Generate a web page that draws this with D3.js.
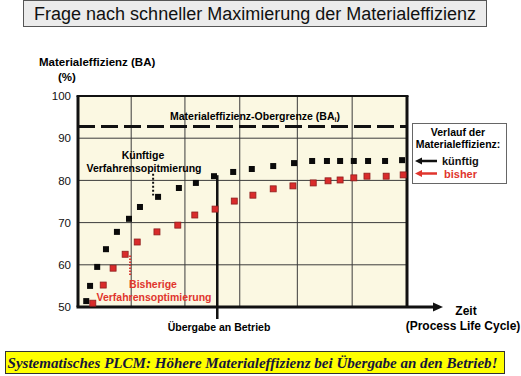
<!DOCTYPE html>
<html>
<head>
<meta charset="utf-8">
<script src="https://cdn.jsdelivr.net/npm/d3@7"></script>
<style>
body{margin:0;background:#fff}
svg{display:block}
text{font-family:"Liberation Sans",Arial,Helvetica,sans-serif}
</style>
</head>
<body>
<div id="graph_draw"></div>
<script>
// values (time is in arbitrary units 0..60)
var kuenftigZeit = [1.5, 2.2, 3.5, 5.1, 7.1, 9.3, 11.3, 14.6, 18.4, 21.5, 24.8, 28.3, 31.7, 35.6, 39.4, 42.7, 45.4, 47.8, 50.3, 52.9, 56.0, 59.1];
var kuenftigWert = [51.4, 55.0, 59.5, 63.7, 67.8, 70.9, 73.7, 76.1, 78.2, 79.4, 81.0, 82.0, 82.7, 83.4, 84.1, 84.6, 84.6, 84.6, 84.6, 84.6, 84.6, 84.8];
var bisherZeit = [2.7, 4.6, 6.4, 8.6, 10.8, 14.4, 18.2, 21.3, 25.0, 28.5, 31.9, 35.6, 39.2, 42.9, 45.6, 47.8, 50.3, 52.7, 56.2, 59.3];
var bisherWert = [50.9, 55.2, 59.2, 62.5, 65.4, 67.8, 69.4, 71.8, 73.2, 75.1, 76.5, 78.0, 78.7, 79.4, 79.9, 80.1, 80.6, 81.0, 81.0, 81.3];
var yTicks = [50, 60, 70, 80, 90, 100];
var xGrid = [9.7, 19.5, 29.5, 40, 50];
var obergrenze = 92.8;
var uebergabeZeit = 25.4;

var margin = {top: 96, left: 78},
    width = 329,
    height = 211;

var x = d3.scaleLinear().domain([0, 60]).range([0, width]);
var y = d3.scaleLinear().domain([50, 100]).range([height, 0]);

var root = d3.select("#graph_draw").append("svg")
    .attr("width", 521)
    .attr("height", 376);

// title box
root.append("rect").attr("x", 23.5).attr("y", 0.5).attr("width", 463).attr("height", 26)
    .attr("fill", "#ebebeb").attr("stroke", "#555").attr("stroke-width", 1);
root.append("text").attr("x", 255).attr("y", 20).attr("text-anchor", "middle")
    .attr("font-size", "18px").attr("fill", "#111")
    .text("Frage nach schneller Maximierung der Materialeffizienz");

// y axis title
root.append("text").attr("x", 39).attr("y", 66).attr("font-size", "11.5px").attr("font-weight", "bold")
    .text("Materialeffizienz (BA)");
root.append("text").attr("x", 58).attr("y", 81).attr("font-size", "11.5px").attr("font-weight", "bold")
    .text("(%)");

var svg = root.append("g")
    .attr("transform", "translate(" + margin.left + "," + margin.top + ")");

// plot background
svg.append("rect").attr("width", width).attr("height", height).attr("fill", "#fbf8e2");

// grid
svg.selectAll(".hgrid").data(yTicks.slice(1, -1)).enter().append("line")
    .attr("x1", 0).attr("x2", width)
    .attr("y1", function(d) { return y(d); }).attr("y2", function(d) { return y(d); })
    .attr("stroke", "#3c3c3c").attr("stroke-width", 1);
svg.selectAll(".vgrid").data(xGrid).enter().append("line")
    .attr("y1", 0).attr("y2", height)
    .attr("x1", function(d) { return x(d); }).attr("x2", function(d) { return x(d); })
    .attr("stroke", "#3c3c3c").attr("stroke-width", 1);

// y axis labels
var yAxis = svg.append("g")
    .call(d3.axisLeft(y).tickValues(yTicks).tickSize(0).tickPadding(7));
yAxis.select(".domain").remove();
yAxis.selectAll("text").attr("font-size", "11.5px").attr("fill", "#111");

// frame
svg.append("line").attr("x1", -1.5).attr("x2", width + 1.5).attr("y1", 0).attr("y2", 0)
    .attr("stroke", "#111").attr("stroke-width", 2);
svg.append("line").attr("x1", 0).attr("x2", 0).attr("y1", 0).attr("y2", height)
    .attr("stroke", "#111").attr("stroke-width", 3);
svg.append("line").attr("x1", width).attr("x2", width).attr("y1", 0).attr("y2", height)
    .attr("stroke", "#111").attr("stroke-width", 3);

// x axis with arrow
svg.append("line").attr("x1", -1.5).attr("x2", width + 28).attr("y1", height).attr("y2", height)
    .attr("stroke", "#111").attr("stroke-width", 3);
svg.append("path")
    .attr("d", "M" + (width + 26) + "," + (height - 4.5) + "L" + (width + 36) + "," + height + "L" + (width + 26) + "," + (height + 4.5) + "Z")
    .attr("fill", "#111");

root.append("text").attr("x", 466).attr("y", 315).attr("text-anchor", "middle")
    .attr("font-size", "12px").attr("font-weight", "bold").text("Zeit");
root.append("text").attr("x", 463).attr("y", 330).attr("text-anchor", "middle")
    .attr("font-size", "12px").attr("font-weight", "bold").text("(Process Life Cycle)");

// upper limit
svg.append("line").attr("x1", 0).attr("x2", width)
    .attr("y1", y(obergrenze)).attr("y2", y(obergrenze))
    .attr("stroke", "#111").attr("stroke-width", 3).attr("stroke-dasharray", "17,6");
var og = svg.append("text").attr("x", 177).attr("y", y(obergrenze) - 6).attr("text-anchor", "middle")
    .attr("font-size", "10.5px").attr("font-weight", "bold");
og.append("tspan").text("Materialeffizienz-Obergrenze (BA");
og.append("tspan").attr("font-size", "7px").attr("dy", 2).text("i");
og.append("tspan").attr("dy", -2).text(")");

// handover line
svg.append("line").attr("x1", x(uebergabeZeit)).attr("x2", x(uebergabeZeit))
    .attr("y1", y(kuenftigWert[10]) - 1).attr("y2", height + 12)
    .attr("stroke", "#111").attr("stroke-width", 2.5);
root.append("text").attr("x", 219).attr("y", 331).attr("text-anchor", "middle")
    .attr("font-size", "10.5px").attr("font-weight", "bold").text("Übergabe an Betrieb");

// annotation: future
svg.append("line").attr("x1", x(13.7)).attr("x2", x(13.7))
    .attr("y1", y(81.6)).attr("y2", y(76.4))
    .attr("stroke", "#111").attr("stroke-width", 2).attr("stroke-dasharray", "2,2");
root.append("text").attr("x", 143).attr("y", 159).attr("text-anchor", "middle")
    .attr("font-size", "10.5px").attr("font-weight", "bold").text("Künftige");
root.append("text").attr("x", 144).attr("y", 172).attr("text-anchor", "middle")
    .attr("font-size", "10.5px").attr("font-weight", "bold").text("Verfahrensopitmierung");

// annotation: past
svg.append("line").attr("x1", x(9.5)).attr("x2", x(9.5))
    .attr("y1", y(62.2)).attr("y2", y(57.2))
    .attr("stroke", "#d8312b").attr("stroke-width", 2).attr("stroke-dasharray", "1.5,1.5");
root.append("text").attr("x", 153).attr("y", 288).attr("text-anchor", "middle")
    .attr("font-size", "10.5px").attr("font-weight", "bold").attr("fill", "#e0352d").text("Bisherige");
root.append("text").attr("x", 154).attr("y", 301).attr("text-anchor", "middle")
    .attr("font-size", "10.5px").attr("font-weight", "bold").attr("fill", "#e0352d").text("Verfahrensoptimierung");

// points
var sq = 6;
svg.selectAll(".bisher").data(bisherZeit).enter().append("rect")
    .attr("x", function(d) { return x(d) - sq / 2; })
    .attr("y", function(d, i) { return y(bisherWert[i]) - sq / 2; })
    .attr("width", sq).attr("height", sq)
    .attr("fill", "#d92b2b").attr("stroke", "#8e1d1d").attr("stroke-width", 0.8);
svg.selectAll(".kuenftig").data(kuenftigZeit).enter().append("rect")
    .attr("x", function(d) { return x(d) - sq / 2; })
    .attr("y", function(d, i) { return y(kuenftigWert[i]) - sq / 2; })
    .attr("width", sq).attr("height", sq)
    .attr("fill", "#0a0a0a");

// legend
var lg = root.append("g");
lg.append("rect").attr("x", 412.5).attr("y", 123.5).attr("width", 94).attr("height", 60)
    .attr("fill", "#fff").attr("stroke", "#666").attr("stroke-width", 1);
lg.append("text").attr("x", 458).attr("y", 136).attr("text-anchor", "middle")
    .attr("font-size", "10.5px").attr("font-weight", "bold").text("Verlauf der");
lg.append("text").attr("x", 458).attr("y", 148).attr("text-anchor", "middle")
    .attr("font-size", "10.5px").attr("font-weight", "bold").text("Materialeffizienz:");
[{c: "#111", t: "künftig", yy: 161, tx: 442}, {c: "#e0352d", t: "bisher", yy: 173.5, tx: 444}].forEach(function(e) {
    lg.append("line").attr("x1", 420).attr("x2", 437).attr("y1", e.yy).attr("y2", e.yy)
        .attr("stroke", e.c).attr("stroke-width", 2.5);
    lg.append("path").attr("d", "M415," + e.yy + "L422," + (e.yy - 3.5) + "L422," + (e.yy + 3.5) + "Z")
        .attr("fill", e.c);
    lg.append("text").attr("x", e.tx).attr("y", e.yy + 4).attr("font-size", "11px")
        .attr("font-weight", "bold").attr("fill", e.c).text(e.t);
});

// bottom banner
root.append("rect").attr("x", 5.5).attr("y", 351.5).attr("width", 499).attr("height", 22)
    .attr("fill", "#ffff00").attr("stroke", "#333").attr("stroke-width", 1);
root.append("text").attr("x", 252.5).attr("y", 367.5).attr("text-anchor", "middle")
    .style("font-family", "'Liberation Serif','Times New Roman',serif")
    .attr("font-size", "15px").attr("font-weight", "bold").attr("font-style", "italic")
    .attr("fill", "#16163a")
    .attr("textLength", 490).attr("lengthAdjust", "spacingAndGlyphs")
    .text("Systematisches PLCM:  Höhere Materialeffizienz bei Übergabe an den Betrieb!");
</script>
</body>
</html>
